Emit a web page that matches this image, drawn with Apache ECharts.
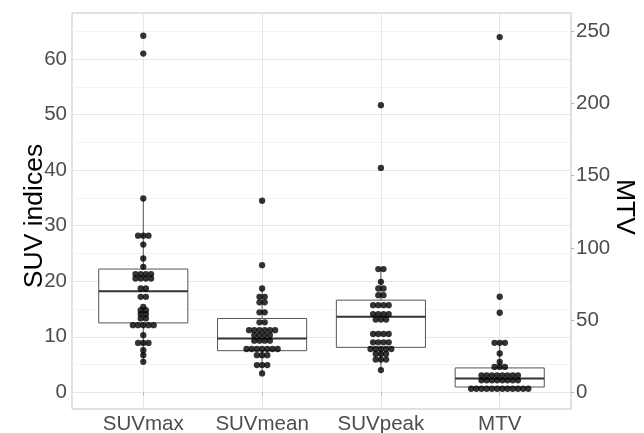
<!DOCTYPE html>
<html><head><meta charset="utf-8">
<script src="https://cdn.jsdelivr.net/npm/echarts@6/dist/echarts.min.js"></script>
<style>html,body{margin:0;padding:0;background:#fff}#c{width:644px;height:433px}</style>
</head><body><div id="c"></div>
<script>
// ---------- data ----------
const categories = ['SUVmax', 'SUVmean', 'SUVpeak', 'MTV'];

// dot values (SUV units for first three, MTV units for the last)
const suvmax = [64.2, 61.0, 34.9, 28.2, 28.2, 28.2, 26.6, 24.1, 22.6,
  21.3, 21.3, 21.3, 21.3, 20.5, 20.5, 20.5, 20.5, 18.7, 18.7, 17.2, 17.2,
  15.4, 14.8, 14.8, 14.1, 14.1, 13.3, 13.3, 12.1, 12.1, 12.1, 12.1, 12.1,
  10.3, 8.9, 8.9, 8.9, 7.6, 6.7, 5.5];
const suvmean = [34.5, 22.9, 18.7, 17.2, 17.2, 16.2, 16.2, 14.4, 14.4, 12.6, 12.6,
  11.2, 11.2, 11.2, 11.2, 11.2, 11.2, 10.3, 10.3, 10.3, 10.3,
  9.3, 9.3, 9.3, 9.3, 7.8, 7.8, 7.8, 7.8, 7.8, 7.8, 7.8,
  6.7, 6.7, 6.7, 4.9, 4.9, 4.9, 3.4];
const suvpeak = [51.7, 40.4, 22.2, 22.2, 19.9, 18.7, 18.7, 17.5, 17.5,
  15.7, 15.7, 15.7, 15.7, 14.1, 14.1, 14.1, 14.1, 13.1, 13.1, 13.1,
  10.5, 10.5, 10.5, 10.5, 9.0, 9.0, 9.0, 9.0, 7.8, 7.8, 7.8, 7.8, 7.8,
  6.9, 6.9, 6.9, 5.9, 5.9, 5.9, 4.0];
const mtv = [246, 66.2, 55.1, 34.3, 34.3, 34.3, 26.9, 21.0, 17.6, 17.6, 17.6,
  11.8, 11.8, 11.8, 11.8, 11.8, 11.8, 11.8, 11.8,
  8.3, 8.3, 8.3, 8.3, 8.3, 8.3, 8.3, 8.3,
  2.5, 2.5, 2.5, 2.5, 2.5, 2.5, 2.5, 2.5, 2.5, 2.5, 2.5, 2.5];

// box statistics: [lower whisker, Q1, median, Q3, upper whisker]
const boxSUVmax = [5.5, 12.5, 18.2, 22.2, 34.9];
const boxSUVmean = [3.4, 7.5, 9.7, 13.3, 18.7];
const boxSUVpeak = [4.0, 8.1, 13.6, 16.6, 22.2];
const boxMTV = [1.5, 3.7, 9.5, 16.9, 34.3];

const leftTicks = [0, 10, 20, 30, 40, 50, 60];
const rightTicks = [0, 50, 100, 150, 200, 250];

// ---------- styling constants ----------
const FONT = 'Liberation Sans, Arial, sans-serif';
const LEFT_MIN = -3, LEFT_MAX = 68.3;
const RATIO = 250 / 65;            // MTV units per SUV unit
const DOT_SIZE = 6.3, DOT_STEP = 5.2, BOX_W = 0.75;
const TICK_FS = 20.5, TITLE_FS = 26.5;

function stack(vals, cat) {
  const counts = new Map();
  vals.forEach(v => counts.set(v, (counts.get(v) || 0) + 1));
  const out = [];
  counts.forEach((n, v) => {
    for (let i = 0; i < n; i++) {
      out.push({ value: [cat, v], symbolOffset: [(i - (n - 1) / 2) * DOT_STEP, 0] });
    }
  });
  return out;
}

function renderBox(params, api) {
  const x = api.value(0);
  const lo = api.coord([x, api.value(1)]);
  const q1 = api.coord([x, api.value(2)]);
  const md = api.coord([x, api.value(3)]);
  const q3 = api.coord([x, api.value(4)]);
  const hi = api.coord([x, api.value(5)]);
  const w = api.size([BOX_W, 0])[0];
  const cx = q1[0];
  const st = { stroke: '#555555', lineWidth: 1, fill: null };
  return {
    type: 'group', children: [
      { type: 'line', shape: { x1: cx, y1: hi[1], x2: cx, y2: q3[1] }, style: st },
      { type: 'line', shape: { x1: cx, y1: q1[1], x2: cx, y2: lo[1] }, style: st },
      { type: 'rect', shape: { x: cx - w / 2, y: q3[1], width: w, height: q1[1] - q3[1] },
        style: { fill: '#ffffff', stroke: '#555555', lineWidth: 1 } },
      { type: 'line', shape: { x1: cx - w / 2, y1: md[1], x2: cx + w / 2, y2: md[1] },
        style: { stroke: '#333333', lineWidth: 2 } }
    ]
  };
}

const chart = echarts.init(document.getElementById('c'), null, { renderer: 'canvas' });
chart.setOption({
  animation: false,
  backgroundColor: '#ffffff',
  textStyle: { fontFamily: FONT },
  grid: { left: 72, right: 73, top: 13, bottom: 24, show: true, containLabel: false,
          outerBoundsMode: 'none',
          borderColor: '#c4c4c4', borderWidth: 1, backgroundColor: 'transparent' },
  xAxis: {
    type: 'value', min: -0.6, max: 3.6, splitNumber: 4,
    axisLine: { show: false },
    axisTick: { show: true, length: 3, lineStyle: { color: '#b3b3b3' } },
    splitLine: { show: true, showMinLine: false, showMaxLine: false, lineStyle: { color: '#e6e6e6', width: 1 } },
    axisLabel: {
      showMinLabel: false, showMaxLabel: false, margin: 5,
      fontSize: TICK_FS, color: '#4d4d4d', fontFamily: FONT,
      formatter: v => (Number.isInteger(v) && categories[v] !== undefined) ? categories[v] : ''
    }
  },
  yAxis: [{
    type: 'value', min: LEFT_MIN, max: LEFT_MAX, splitNumber: 14,
    name: 'SUV indices', nameLocation: 'middle', nameRotate: 90, nameGap: 24,
    nameMoveOverlap: false,
    nameTextStyle: { fontSize: TITLE_FS, color: '#000000', fontFamily: FONT, padding: [0, 10, 0, 0] },
    axisLine: { show: false },
    axisTick: { show: false },
    splitLine: { show: true, showMinLine: false, showMaxLine: false,
                 lineStyle: { color: ['#e6e6e6', '#f3f3f3'], width: 1 } },
    axisLabel: {
      showMinLabel: false, showMaxLabel: false, margin: 5,
      fontSize: TICK_FS, color: '#4d4d4d', fontFamily: FONT,
      formatter: v => leftTicks.includes(v) ? String(v) : ''
    }
  }, {
    type: 'value', min: LEFT_MIN * RATIO, max: LEFT_MAX * RATIO, splitNumber: 6,
    position: 'right',
    name: 'MTV', nameLocation: 'middle', nameRotate: -90, nameGap: 40,
    nameMoveOverlap: false,
    nameTextStyle: { fontSize: TITLE_FS, color: '#000000', fontFamily: FONT, padding: [0, 8, 0, 0] },
    axisLine: { show: false },
    axisTick: { show: true, length: 3, lineStyle: { color: '#b3b3b3' } },
    splitLine: { show: false },
    axisLabel: {
      showMinLabel: false, showMaxLabel: false, margin: 5,
      fontSize: TICK_FS, color: '#4d4d4d', fontFamily: FONT,
      formatter: v => rightTicks.includes(v) ? String(v) : ''
    }
  }],
  series: [
    { type: 'custom', name: 'boxSUV', yAxisIndex: 0, z: 2, renderItem: renderBox,
      encode: { x: 0, y: [1, 2, 3, 4, 5] },
      data: [[0].concat(boxSUVmax), [1].concat(boxSUVmean), [2].concat(boxSUVpeak)] },
    { type: 'custom', name: 'boxMTV', yAxisIndex: 1, z: 2, renderItem: renderBox,
      encode: { x: 0, y: [1, 2, 3, 4, 5] },
      data: [[3].concat(boxMTV)] },
    { type: 'scatter', name: 'SUV dots', yAxisIndex: 0, z: 3, symbolSize: DOT_SIZE,
      itemStyle: { color: '#000000' },
      data: stack(suvmax, 0).concat(stack(suvmean, 1), stack(suvpeak, 2)) },
    { type: 'scatter', name: 'MTV dots', yAxisIndex: 1, z: 3, symbolSize: DOT_SIZE,
      itemStyle: { color: '#000000' },
      data: stack(mtv, 3) }
  ]
});
</script>
</body></html>
